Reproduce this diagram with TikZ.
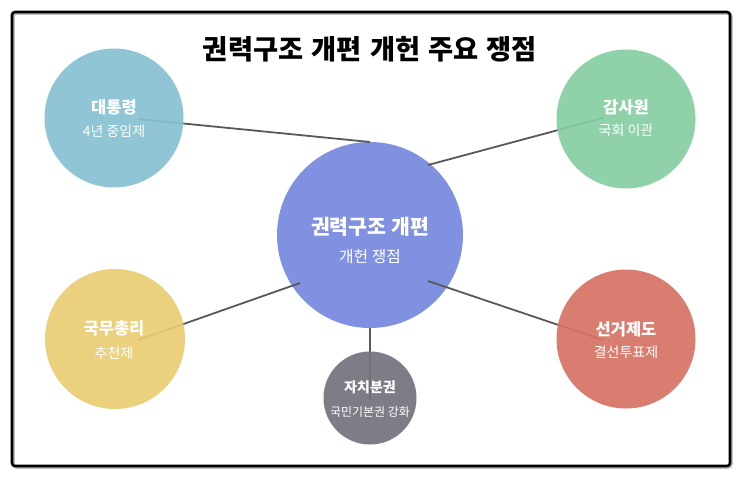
\documentclass[tikz,border=0pt]{standalone}
\usepackage{fontspec}
\setmainfont{Noto Sans CJK KR}
\begin{document}
\begin{tikzpicture}[x=1pt,y=-1pt,
  bubble/.style={circle,inner sep=0pt,minimum size=#1},
  link/.style={draw=black!65,line width=1.8pt},
  ttl/.style={text=white,font=\bfseries\fontsize{16.5}{18}\selectfont},
  sub/.style={text=white,font=\fontsize{14}{16}\selectfont}]
\definecolor{cBlue}{HTML}{86C1D1}
\definecolor{cGreen}{HTML}{86CEA1}
\definecolor{cCenter}{HTML}{7F91E0}
\definecolor{cYellow}{HTML}{EACC74}
\definecolor{cRed}{HTML}{D57363}
\definecolor{cGray}{HTML}{72727D}
\useasboundingbox (0,0) rectangle (743,479);
\fill[white] (0,0) rectangle (743,479);
% frame
\draw[black!25,line width=2.5pt,rounded corners=3pt] (13.5,13.5) rectangle (731.5,467.5);
\draw[black,line width=2.6pt,rounded corners=3pt] (12,12) rectangle (730,466);
% title
\node[font=\bfseries\fontsize{27.3}{30}\selectfont] (title) at (370,49) {권력구조\hspace{0.3em}개편\hspace{0.3em}개헌\hspace{0.3em}주요\hspace{0.3em}쟁점};
% center
\node[bubble=186pt,fill=cCenter] (center) at (370,235) {};
% link end points
\coordinate (p1) at (138,119);
\coordinate (q1) at (370,142);
\coordinate (p2) at (603,118);
\coordinate (q2) at (428,165);
\coordinate (p3) at (138,340);
\coordinate (q3) at (300,283);
\coordinate (p4) at (603,340);
\coordinate (q4) at (428,281);
\coordinate (p5) at (370,400);
\coordinate (q5) at (370,328);
\draw[link] (p1) -- (q1);
\draw[link] (p2) -- (q2);
\draw[link] (p3) -- (q3);
\draw[link] (p4) -- (q4);
\draw[link] (p5) -- (q5);
% outer bubbles
\node[bubble=139pt,fill=cBlue,fill opacity=0.92] (b1) at (114,118) {};
\node[bubble=139pt,fill=cGreen,fill opacity=0.92] (b2) at (626,119) {};
\node[bubble=140pt,fill=cYellow,fill opacity=0.92] (b3) at (115,339) {};
\node[bubble=139pt,fill=cRed,fill opacity=0.92] (b4) at (626,339) {};
\node[bubble=93pt,fill=cGray,fill opacity=0.92] (b5) at (370,398) {};
% texts
\node[text=white,font=\bfseries\fontsize{20.5}{22}\selectfont] (ct) at (370,227) {권력구조 개편};
\node[text=white,font=\fontsize{15.8}{18}\selectfont] (cs) at (370,257) {개헌 쟁점};
\node[ttl] (t1) at (114,107) {대통령};
\node[sub] (s1) at (114,131) {4년 중임제};
\node[ttl] (t2) at (626,107) {감사원};
\node[sub] (s2) at (626,130) {국회 이관};
\node[ttl] (t3) at (114,328) {국무총리};
\node[sub] (s3) at (114,353) {추천제};
\node[ttl] (t4) at (626,329) {선거제도};
\node[sub] (s4) at (626,352) {결선투표제};
\node[ttl,font=\bfseries\fontsize{14}{16}\selectfont] (t5) at (370,387) {자치분권};
\node[sub,font=\fontsize{12}{14}\selectfont] (s5) at (370,412) {국민기본권 강화};
\end{tikzpicture}
\end{document}
